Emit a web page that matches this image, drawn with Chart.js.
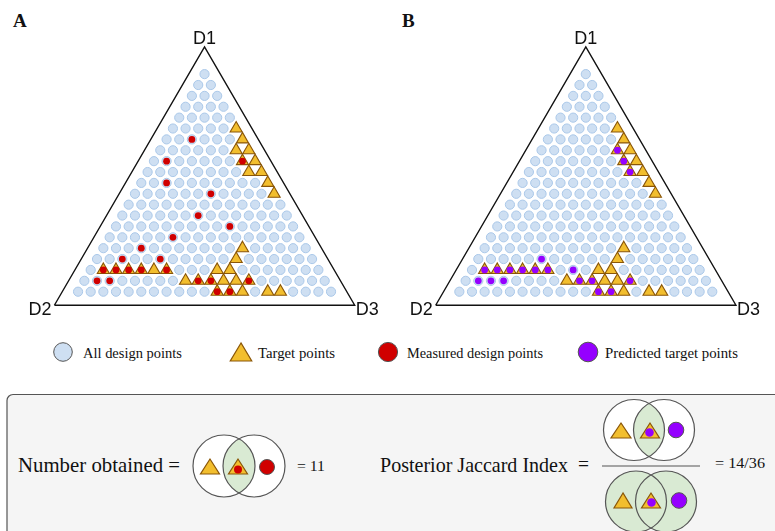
<!DOCTYPE html>
<html>
<head>
<meta charset="utf-8">
<script src="https://cdn.jsdelivr.net/npm/chart.js@4/dist/chart.umd.min.js"></script>
<style>
  html, body { margin: 0; padding: 0; background: #fff; }
  body { width: 775px; height: 531px; overflow: hidden; position: relative; }
  canvas { position: absolute; top: 0; }
  #chartA { left: 0; }
  #chartB { left: 388px; }
  #overlay { position: absolute; left: 0; top: 0; }
</style>
</head>
<body>
<svg id="overlay" width="775" height="531"></svg>
<canvas id="chartA" width="388" height="335" style="width:388px;height:335px"></canvas>
<canvas id="chartB" width="387" height="335" style="width:387px;height:335px"></canvas>
<script>
// Compositions on a 5% grid, written as [D1, D2, D3] in grid steps (sum = 20)
const gridSteps = 20;
const vertexNames = ['D1', 'D2', 'D3'];
const panelNames = ['A', 'B'];

const targetPoints = [
  [15, 0, 5], [14, 0, 6], [13, 1, 6], [13, 0, 7], [12, 1, 7], [12, 0, 8],
  [11, 1, 8], [11, 0, 9], [10, 0, 10], [9, 0, 11],
  [4, 5, 11], [3, 6, 11],
  [2, 17, 1], [2, 16, 2], [2, 15, 3], [2, 14, 4], [2, 13, 5], [2, 12, 6], [2, 8, 10], [2, 7, 11],
  [1, 11, 8], [1, 10, 9], [1, 9, 10], [1, 8, 11], [1, 7, 12], [1, 6, 13],
  [0, 9, 11], [0, 8, 12], [0, 7, 13], [0, 5, 15], [0, 4, 16]
];

const measuredPoints = [
  [14, 4, 2], [12, 7, 1], [12, 1, 7], [10, 8, 2], [9, 5, 6], [7, 7, 6], [6, 5, 9],
  [5, 10, 5], [4, 13, 3], [3, 15, 2], [3, 12, 5],
  [2, 17, 1], [2, 16, 2], [2, 15, 3], [2, 14, 4], [2, 12, 6],
  [1, 18, 1], [1, 17, 2], [1, 10, 9], [1, 9, 10], [1, 6, 13],
  [0, 9, 11], [0, 8, 12]
];

const predictedPoints = [
  [13, 1, 6], [12, 1, 7], [11, 1, 8], [3, 12, 5],
  [2, 17, 1], [2, 16, 2], [2, 15, 3], [2, 14, 4], [2, 13, 5], [2, 12, 6], [2, 10, 8],
  [1, 18, 1], [1, 17, 2], [1, 16, 3], [1, 10, 9], [1, 9, 10], [1, 6, 13],
  [0, 9, 11], [0, 8, 12]
];

const legendLabels = ['All design points', 'Target points', 'Measured design points', 'Predicted target points'];

// colours
const designFill = 'rgb(206,223,242)';
const designStroke = 'rgb(170,200,233)';
const targetFill = '#f2be2e';
const targetStroke = '#8a5608';
const measuredColor = '#d00000';
const predictedColor = '#9500ff';
const lensFill = '#d9ead3';

// ternary -> cartesian (D2 bottom left, D3 bottom right, D1 top)
const H = Math.sqrt(3) / 2;
function toXY(p) {
  return { x: (p[2] + p[0] / 2) / gridSteps, y: p[0] / gridSteps * H };
}
const key = p => p.join(',');
const targetKeys = new Set(targetPoints.map(key));

// full design space: every composition on the grid
const allDesign = [];
for (let d1 = gridSteps; d1 >= 0; d1--) {
  for (let d3 = 0; d3 <= gridSteps - d1; d3++) {
    allDesign.push([d1, gridSteps - d1 - d3, d3]);
  }
}
const designOnly = allDesign.filter(p => !targetKeys.has(key(p)));

// outer frame, offset from the grid by framePad on every side
const framePad = 0.054;
const frame = [
  { x: -framePad * Math.sqrt(3), y: -framePad },
  { x: 1 + framePad * Math.sqrt(3), y: -framePad },
  { x: 0.5, y: H + 2 * framePad },
  { x: -framePad * Math.sqrt(3), y: -framePad }
];

const vertexLabelPlugin = {
  id: 'vertexLabels',
  afterDatasetsDraw(chart) {
    const { ctx, scales: { x, y } } = chart;
    const c2 = frame[0], c3 = frame[1], c1 = frame[2];
    ctx.save();
    ctx.font = '18px "Liberation Sans", Arial, sans-serif';
    ctx.fillStyle = '#111';
    ctx.textBaseline = 'alphabetic';
    ctx.textAlign = 'center';
    ctx.fillText(vertexNames[0], x.getPixelForValue(c1.x), y.getPixelForValue(c1.y) - 3);
    ctx.textAlign = 'right';
    ctx.fillText(vertexNames[1], x.getPixelForValue(c2.x) - 3, y.getPixelForValue(c2.y) + 9.5);
    ctx.textAlign = 'left';
    ctx.fillText(vertexNames[2], x.getPixelForValue(c3.x) + 1, y.getPixelForValue(c3.y) + 9.5);
    ctx.restore();
  }
};

function makePanel(canvasId, xRange, dots, dotColor, dotLabel) {
  return new Chart(document.getElementById(canvasId), {
    type: 'scatter',
    data: {
      datasets: [
        {
          label: dotLabel,
          data: dots.map(toXY),
          pointRadius: 3.4,
          backgroundColor: dotColor,
          borderColor: dotColor,
          borderWidth: 0,
          order: 0
        },
        {
          label: legendLabels[1],
          data: targetPoints.map(toXY),
          pointStyle: 'triangle',
          pointRadius: 7,
          backgroundColor: targetFill,
          borderColor: targetStroke,
          borderWidth: 1.1,
          order: 1
        },
        {
          label: legendLabels[0],
          data: designOnly.map(toXY),
          pointRadius: 4.6,
          backgroundColor: designFill,
          borderColor: designStroke,
          borderWidth: 1,
          order: 2
        },
        {
          label: 'frame',
          data: frame,
          showLine: true,
          pointRadius: 0,
          borderColor: '#111',
          borderWidth: 1.4,
          fill: false,
          clip: false,
          order: 3
        }
      ]
    },
    options: {
      responsive: false,
      animation: false,
      events: [],
      layout: { padding: 0 },
      plugins: {
        legend: { display: false },
        tooltip: { enabled: false }
      },
      scales: {
        x: { type: 'linear', display: false, min: xRange[0], max: xRange[1] },
        y: { type: 'linear', display: false, min: -0.1401, max: 1.1288 }
      }
    },
    plugins: [vertexLabelPlugin]
  });
}

makePanel('chartA', [-0.2765, 1.1932], measuredPoints, measuredColor, legendLabels[2]);
makePanel('chartB', [-0.25, 1.2159], predictedPoints, predictedColor, legendLabels[3]);

// summary numbers come straight from the point lists
const measuredHits = measuredPoints.filter(p => targetKeys.has(key(p))).length;
const predictedHits = predictedPoints.filter(p => targetKeys.has(key(p))).length;
const unionSize = targetPoints.length + predictedPoints.length - predictedHits;

// ---- legend + formula box (svg) ----
const serif = 'font-family="Liberation Serif, Times New Roman, serif" fill="#111"';
function tri(cx, cy, w, h) {
  return `<polygon points="${cx},${cy - h * 2 / 3} ${cx - w / 2},${cy + h / 3} ${cx + w / 2},${cy + h / 3}" fill="${targetFill}" stroke="${targetStroke}" stroke-width="1.2"/>`;
}
function dot(cx, cy, r, fill, stroke) {
  return `<circle cx="${cx}" cy="${cy}" r="${r}" fill="${fill}"${stroke ? ` stroke="${stroke}" stroke-width="1"` : ''}/>`;
}
function text(x, y, size, str, len, extra) {
  return `<text x="${x}" y="${y}" font-size="${size}" ${serif} textLength="${len}" lengthAdjust="spacingAndGlyphs" ${extra || ''}>${str}</text>`;
}
function venn(cx1, cy, r, d, outerFill) {
  const cx2 = cx1 + d, mx = cx1 + d / 2, h = Math.sqrt(r * r - d * d / 4);
  return `<circle cx="${cx1}" cy="${cy}" r="${r}" fill="${outerFill}"/>` +
    `<circle cx="${cx2}" cy="${cy}" r="${r}" fill="${outerFill}"/>` +
    `<path d="M${mx},${cy - h} A${r},${r} 0 0 1 ${mx},${cy + h} A${r},${r} 0 0 1 ${mx},${cy - h}Z" fill="${lensFill}"/>` +
    `<circle cx="${cx1}" cy="${cy}" r="${r}" fill="none" stroke="#555" stroke-width="1.2"/>` +
    `<circle cx="${cx2}" cy="${cy}" r="${r}" fill="none" stroke="#555" stroke-width="1.2"/>`;
}

let s = '';
// panel letters
s += `<text x="13" y="27" font-size="19" font-weight="bold" ${serif}>${panelNames[0]}</text>`;
s += `<text x="402" y="27" font-size="19" font-weight="bold" ${serif}>${panelNames[1]}</text>`;

// legend
s += dot(63, 352, 9.3, designFill, '#555');
s += text(83, 357.5, 15, legendLabels[0], 99);
s += tri(241, 355, 21.5, 18);
s += text(258, 357.5, 15, legendLabels[1], 77);
s += dot(388, 352, 9.6, measuredColor, '#555');
s += text(407, 357.5, 15, legendLabels[2], 136);
s += dot(588, 352, 9.8, predictedColor, '#555');
s += text(605, 357.5, 15, legendLabels[3], 133);

// formula box
s += `<rect x="7" y="394.5" width="800" height="200" rx="6" fill="#f5f5f5" stroke="#555" stroke-width="1.2"/>`;

s += text(18, 472, 21, 'Number obtained =', 162);
s += venn(224, 466, 31, 30, '#fff');
s += tri(210, 469, 19, 15);
s += tri(238, 469, 19, 15);
s += dot(238, 469.5, 4, measuredColor);
s += dot(267, 467, 7.5, measuredColor, '#555');
s += text(297, 471, 14, '= ' + measuredHits, 28);

s += text(380, 472, 21, 'Posterior Jaccard Index', 188);
s += text(578, 471, 21, '=', 11);
s += venn(634, 430, 30.5, 30, '#fff');
s += tri(621, 433, 20, 15);
s += tri(650, 433, 19, 15);
s += dot(649.5, 432.5, 4.3, predictedColor);
s += dot(676, 430, 7.8, predictedColor, '#555');
s += `<line x1="602" y1="466" x2="700" y2="466" stroke="#888" stroke-width="1.5"/>`;
s += venn(636, 501.5, 30.5, 30, lensFill);
s += tri(623, 503, 18, 15);
s += tri(651, 503, 19, 15);
s += dot(651.5, 502.5, 4.3, predictedColor);
s += dot(679, 500.5, 7.8, predictedColor, '#555');
s += text(715, 468, 14, '= ' + predictedHits + '/' + unionSize, 50);

document.getElementById('overlay').innerHTML = s;
</script>
</body>
</html>
